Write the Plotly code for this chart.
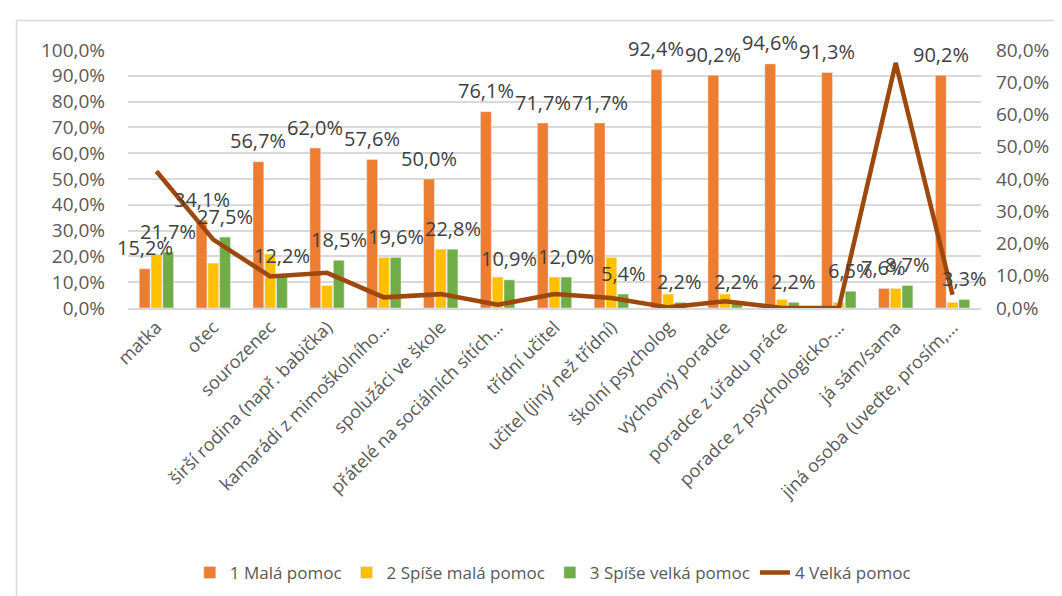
import plotly.graph_objects as go

categories = ["matka", "otec", "sourozenec", "širší rodina (např. babička)",
              "kamarádi z mimoškolního…", "spolužáci ve škole",
              "přátelé na sociálních sítích…", "třídní učitel",
              "učitel (jiný než třídní)", "školní psycholog", "výchovný poradce",
              "poradce z úřadu práce", "poradce z psychologicko-…", "já sám/sama",
              "jiná osoba (uveďte, prosím,…"]

mala = [15.2, 34.1, 56.7, 62.0, 57.6, 50.0, 76.1, 71.7, 71.7, 92.4, 90.2, 94.6, 91.3, 7.6, 90.2]
spise_mala = [20.7, 17.4, 20.9, 8.7, 19.6, 22.8, 12.0, 12.0, 19.6, 5.4, 5.4, 3.3, 2.2, 7.6, 2.2]
spise_velka = [21.7, 27.5, 12.2, 18.5, 19.6, 22.8, 10.9, 12.0, 5.4, 2.2, 2.2, 2.2, 6.5, 8.7, 3.3]
velka = [42.4, 21.2, 9.8, 10.9, 3.3, 4.3, 1.0, 4.3, 3.1, 0.2, 2.1, 0.0, 0.0, 76.0, 4.1]

font = "Open Sans"
grey = "#595959"

fig = go.Figure()

fig.add_trace(go.Bar(name="1 Malá pomoc", x=categories, y=mala, marker_color="#ED7D31"))
fig.add_trace(go.Bar(name="2 Spíše malá pomoc", x=categories, y=spise_mala, marker_color="#FFC000"))
fig.add_trace(go.Bar(name="3 Spíše velká pomoc", x=categories, y=spise_velka, marker_color="#70AD47"))
fig.add_trace(go.Scatter(name="4 Velká pomoc", x=categories, y=velka, yaxis="y2", mode="lines",
                         line=dict(color="#9E480E", width=4.5), cliponaxis=False))

# data labels for series 1 and 3, lifted above the bar ends like in Excel
slot = 853 / len(categories) * (1 - 0.38) / 3
for cat, a, c in zip(categories, mala, spise_velka):
    for val, dx in ((a, -slot), (c, slot)):
        fig.add_annotation(x=cat, y=val, text=f"{val:.1f}%".replace(".", ","),
                           showarrow=False, xshift=dx, yshift=21,
                           font=dict(size=20, color="#404040", family=font))

# chart frame (top and left edges only visible in the picture)
fig.add_shape(type="line", xref="paper", yref="paper", x0=-0.1307, x1=1.2, y0=1.114, y1=1.114,
              line=dict(color="#D9D9D9", width=1.5))
fig.add_shape(type="line", xref="paper", yref="paper", x0=-0.1307, x1=-0.1307, y0=1.114, y1=-1.2,
              line=dict(color="#D9D9D9", width=1.5))

fig.update_layout(
    width=1062, height=596,
    margin=dict(l=120, r=89, t=42, b=296, autoexpand=False),
    paper_bgcolor="white", plot_bgcolor="white",
    separators=",.",
    barmode="group", bargap=0.38, bargroupgap=0.08,
    font=dict(family=font, color=grey),
    xaxis=dict(tickangle=-45, tickfont=dict(size=18, color=grey), showgrid=False,
               range=[-0.5, len(categories) - 0.5],
               showline=True, linecolor="#D9D9D9", linewidth=1.5, ticks="", automargin=False),
    yaxis=dict(range=[0, 100], dtick=10, tickformat=".1f", ticksuffix="%",
               tickfont=dict(size=19, color=grey), gridcolor="#D9D9D9", gridwidth=1.5,
               zeroline=False, ticks="", ticklabelstandoff=22, automargin=False),
    yaxis2=dict(range=[0, 80], dtick=10, tickformat=".1f", ticksuffix="%", overlaying="y",
                side="right", showgrid=False, zeroline=False, automargin=False,
                tickfont=dict(size=19, color=grey), ticklabelstandoff=14),
    legend=dict(orientation="h", xref="container", yref="container", x=0.513, xanchor="center",
                y=0.052, yanchor="middle",
                font=dict(size=17, color=grey), traceorder="normal"),
)

fig.write_html("out.html")
